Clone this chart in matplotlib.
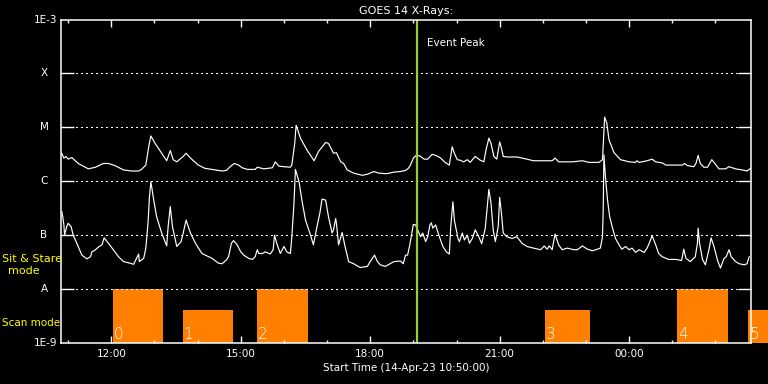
import numpy as np
import matplotlib
matplotlib.use('Agg')
import matplotlib.pyplot as plt
from matplotlib.transforms import blended_transform_factory

plt.rcParams['font.family'] = ['DejaVu Sans']

# 时间: 自 10:50:00 起的分钟数; 通量: log10(W/m^2)
long_t = [1, 4, 7, 10, 15, 24, 38, 48, 59, 66, 75, 87, 98, 108, 112, 118, 122, 125, 131, 140,
          147, 152, 156, 161, 170, 174, 180, 191, 200, 214, 224, 230, 236, 241, 247, 252, 259, 270, 273, 282,
          294, 298, 303, 310, 319, 321, 325, 327, 333, 342, 352, 358, 368, 372, 379, 383, 389, 393, 398, 407,
          419, 426, 435, 442, 453, 463, 472, 479, 483, 486, 490, 494, 499, 505, 510, 516, 521, 528, 534, 540,
          544, 547, 551, 555, 560, 565, 569, 576, 583, 588, 591, 595, 598, 602, 606, 610, 612, 615, 620, 634,
          648, 657, 671, 683, 687, 692, 704, 711, 725, 734, 748, 753, 755, 756, 759, 762, 769, 778, 790, 799,
          801, 804, 815, 822, 827, 836, 841, 855, 864, 867, 871, 880, 883, 886, 889, 894, 899, 905, 908, 915,
          924, 929, 938, 947, 954, 959]
long_log = [-5.48, -5.57, -5.54, -5.59, -5.56, -5.67, -5.77, -5.74, -5.67, -5.67, -5.71, -5.79, -5.81, -5.81, -5.78, -5.70, -5.36, -5.16, -5.30, -5.48,
            -5.62, -5.43, -5.60, -5.64, -5.54, -5.48, -5.57, -5.70, -5.76, -5.79, -5.81, -5.80, -5.72, -5.67, -5.70, -5.75, -5.78, -5.78, -5.74, -5.77,
            -5.75, -5.64, -5.72, -5.73, -5.74, -5.70, -5.30, -4.96, -5.20, -5.42, -5.62, -5.45, -5.28, -5.30, -5.48, -5.47, -5.64, -5.67, -5.79, -5.85,
            -5.89, -5.87, -5.82, -5.85, -5.86, -5.83, -5.82, -5.80, -5.76, -5.70, -5.57, -5.52, -5.53, -5.59, -5.59, -5.50, -5.52, -5.57, -5.65, -5.70,
            -5.36, -5.48, -5.60, -5.61, -5.64, -5.60, -5.65, -5.54, -5.61, -5.64, -5.42, -5.20, -5.30, -5.54, -5.59, -5.27, -5.36, -5.54, -5.55, -5.55,
            -5.59, -5.62, -5.62, -5.62, -5.57, -5.64, -5.64, -5.64, -5.62, -5.65, -5.65, -5.60, -5.05, -4.81, -4.92, -5.23, -5.47, -5.60, -5.64, -5.65,
            -5.62, -5.65, -5.62, -5.59, -5.64, -5.66, -5.70, -5.70, -5.70, -5.67, -5.71, -5.73, -5.67, -5.52, -5.67, -5.74, -5.74, -5.60, -5.65, -5.77,
            -5.77, -5.73, -5.77, -5.79, -5.81, -5.76]

short_t = [1, 2.5, 4, 5, 8, 10, 14, 17, 22, 29, 36, 41, 43, 48, 52, 57, 60, 66, 75, 80,
           87, 96, 101, 105, 108, 109, 115, 118, 121, 123, 125, 129, 133, 140, 147, 149, 152, 155, 161, 167,
           170, 174, 180, 187, 196, 210, 219, 224, 230, 233, 237, 240, 245, 250, 254, 261, 266, 270, 273, 275,
           280, 284, 291, 295, 297, 300, 305, 310, 314, 319, 321, 324, 326, 331, 335, 340, 347, 351, 356, 360,
           363, 368, 372, 377, 379, 382, 383, 386, 391, 395, 400, 407, 416, 426, 430, 433, 436, 440, 444, 451,
           463, 472, 476, 479, 482, 485, 487, 490, 493, 496, 500, 503, 507, 510, 513, 515, 517, 521, 523, 527,
           531, 536, 540, 542, 545, 547, 552, 554, 558, 561, 565, 568, 572, 576, 581, 585, 590, 595, 598, 601,
           604, 608, 610, 612, 615, 620, 627, 634, 641, 648, 657, 667, 672, 676, 679, 683, 687, 692, 697, 704,
           713, 718, 725, 732, 739, 746, 750, 753, 754, 755, 757, 760, 763, 767, 771, 776, 780, 785, 790, 794,
           799, 804, 811, 815, 818, 822, 827, 831, 836, 845, 855, 863, 866, 869, 875, 882, 885, 886, 888, 892,
           896, 901, 904, 908, 913, 917, 922, 925, 929, 932, 938, 943, 950, 954, 957]
short_log = [-6.56, -6.66, -6.81, -7.00, -6.84, -6.78, -6.84, -7.00, -7.15, -7.37, -7.44, -7.40, -7.31, -7.27, -7.22, -7.18, -7.05, -7.15, -7.31, -7.40,
             -7.49, -7.52, -7.54, -7.43, -7.35, -7.49, -7.43, -7.24, -6.78, -6.29, -6.01, -6.35, -6.66, -6.96, -7.20, -6.84, -6.47, -6.84, -7.21, -7.12,
             -6.96, -6.72, -6.96, -7.15, -7.34, -7.43, -7.52, -7.53, -7.46, -7.40, -7.15, -7.10, -7.18, -7.31, -7.37, -7.43, -7.45, -7.40, -7.27, -7.34,
             -7.34, -7.31, -7.35, -7.27, -7.00, -7.15, -7.34, -7.21, -7.31, -7.34, -7.03, -6.41, -5.78, -6.01, -6.35, -6.72, -7.00, -7.18, -6.84, -6.59,
             -6.33, -6.35, -6.66, -6.96, -6.90, -6.69, -6.78, -7.18, -6.95, -7.21, -7.49, -7.53, -7.60, -7.58, -7.49, -7.43, -7.37, -7.49, -7.55, -7.58,
             -7.49, -7.48, -7.53, -7.37, -7.37, -7.18, -7.03, -6.80, -6.81, -6.90, -7.03, -6.96, -7.12, -7.03, -6.81, -6.77, -6.87, -6.81, -6.90, -7.06,
             -7.21, -7.31, -7.35, -6.84, -6.38, -6.72, -7.06, -7.12, -6.96, -7.09, -7.00, -7.15, -7.06, -6.90, -7.03, -7.16, -6.87, -6.15, -6.41, -6.90,
             -7.12, -6.84, -6.30, -6.53, -6.96, -7.03, -7.06, -7.03, -7.15, -7.21, -7.24, -7.27, -7.20, -7.26, -7.20, -7.27, -6.98, -7.18, -7.27, -7.24,
             -7.27, -7.27, -7.20, -7.26, -7.29, -7.26, -7.24, -7.03, -6.53, -5.51, -5.91, -6.35, -6.66, -6.87, -7.06, -7.18, -7.26, -7.21, -7.27, -7.24,
             -7.32, -7.27, -7.32, -7.24, -7.15, -7.01, -7.18, -7.34, -7.40, -7.45, -7.45, -7.47, -7.26, -7.43, -7.49, -7.40, -7.15, -6.87, -7.15, -7.45,
             -7.55, -7.27, -7.05, -7.21, -7.47, -7.61, -7.43, -7.40, -7.27, -7.40, -7.49, -7.53, -7.55, -7.53, -7.40]

# 观测模式条 (起始分钟, 持续分钟, 顶部通量)
scan_start = [72, 169, 273, 673, 857, 956]
scan_len = [70, 70, 71, 63, 70, 100]
scan_top = [1e-8, 4.1e-9, 1e-8, 4.1e-9, 1e-8, 4.1e-9]
scan_names = ['0', '1', '2', '3', '4', '5']

event_peak = 495
major_ticks = [70, 250, 430, 610, 790]
major_labels = ['12:00', '15:00', '18:00', '21:00', '00:00']
minor_ticks = [10, 130, 190, 310, 370, 490, 550, 670, 730, 850, 910]
flare_levels = [1e-8, 1e-7, 1e-6, 1e-5, 1e-4]
flare_names = ['A', 'B', 'C', 'M', 'X']

fig = plt.figure(figsize=(7.68, 3.84), dpi=100, facecolor='black')
ax = fig.add_axes([0.0794, 0.1068, 0.898, 0.8424], facecolor='black')
ax.set_yscale('log')
ax.set_xlim(0, 959)
ax.set_ylim(1e-9, 1e-3)

orange = '#ff8000'
for s, w, top, name in zip(scan_start, scan_len, scan_top, scan_names):
    ax.bar(s, top - 1e-9, width=w, bottom=1e-9, align='edge', color=orange,
           zorder=1, clip_on=(name != '5'))
    ax.text(s + 1, 10**-8.93, name, color='white', fontsize=11, ha='left',
            va='baseline', zorder=3, fontweight='light')

# 虚线网格 (点状)
for lv in flare_levels:
    ax.axhline(lv, color='white', lw=1.0, ls=(0, (0.8, 2.8)), zorder=2,
               antialiased=False)

ax.plot(long_t, 10**np.array(long_log), color='white', lw=0.85, zorder=4)
ax.plot(short_t, 10**np.array(short_log), color='white', lw=0.85, zorder=4)

ax.axvline(event_peak, color='#9acd32', lw=1.6, zorder=5)
ax.text(event_peak + 14, 10**-3.43, 'Event Peak', color='white', fontsize=7.5,
        ha='left', va='center')

for sp in ax.spines.values():
    sp.set_color('white')
    sp.set_linewidth(1.1)
    sp.set_zorder(6)

ax.set_xticks(major_ticks)
ax.set_xticklabels(major_labels)
ax.set_xticks(minor_ticks, minor=True)
ax.tick_params(axis='x', which='major', direction='in', length=5, width=1,
               color='white', top=True, labelcolor='white', labelsize=7.5, pad=4)
ax.tick_params(axis='x', which='minor', direction='in', length=2.5, width=1,
               color='white', top=True)
ax.set_yticks(flare_levels)
ax.yaxis.set_minor_locator(matplotlib.ticker.NullLocator())
ax.tick_params(axis='y', which='major', direction='in', length=9.5, width=1,
               color='white', right=True, labelleft=False)

trans = blended_transform_factory(ax.transAxes, ax.transData)
for lv, name in zip(flare_levels, flare_names):
    ax.text(-0.0246, lv, name, transform=trans, color='white', fontsize=7.5,
            ha='center', va='center')
ax.text(-0.006, 1e-3, '1E-3', transform=trans, color='white', fontsize=7.5,
        ha='right', va='center')
ax.text(-0.006, 1e-9, '1E-9', transform=trans, color='white', fontsize=7.5,
        ha='right', va='center')

ax.set_title('GOES 14 X-Rays:', color='white', fontsize=8, pad=4)
ax.text(0.5, -0.0773, 'Start Time (14-Apr-23 10:50:00)', transform=ax.transAxes,
        color='white', fontsize=7.5, ha='center', va='center')

fig.text(2 / 768, 1 - 259 / 384, 'Sit & Stare', color='yellow', fontsize=8,
         ha='left', va='center')
fig.text(24 / 768, 1 - 271.5 / 384, 'mode', color='yellow', fontsize=8,
         ha='center', va='center')
fig.text(2 / 768, 1 - 323 / 384, 'Scan mode', color='yellow', fontsize=7.5,
         ha='left', va='center')

fig.savefig('out.png', dpi=100, facecolor='black')
